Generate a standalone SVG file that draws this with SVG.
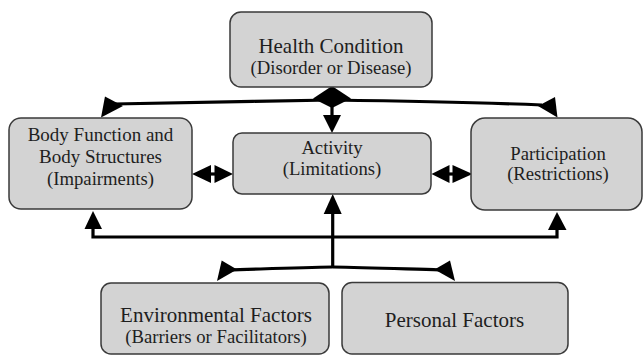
<svg xmlns="http://www.w3.org/2000/svg" width="644" height="356" viewBox="0 0 644 356">
<style>
.box{fill:#d3d3d3;stroke:#3a3a3a;stroke-width:1.5}
.t{fill:#1e1e1e;text-anchor:middle}
.big{font-size:21px}
.med{font-size:18.7px}
.ln{fill:none;stroke:#000;stroke-width:3.2}
.ah{fill:#000;stroke:none}
</style>
<rect width="644" height="356" fill="#fff"/>
<g id="connectors">
<path class="ln" d="M332,100 C260,101 170,103 114,104"/>
<polygon class="ah" points="101,117.5 105,96.5 123,106"/>
<path class="ln" d="M332,100 C404,101 494,103 542,105"/>
<polygon class="ah" points="557.5,117.5 555,97 538,106"/>
<polygon class="ah" points="332,86 351,98.5 332,108 313,98.5"/>
<line class="ln" x1="332" y1="105" x2="332" y2="117" stroke-width="5"/>
<polygon class="ah" points="323,115 341,115 332,133"/>
<polygon class="ah" points="192,174 211,165 211,183"/>
<polygon class="ah" points="233,174 214.5,165 214.5,183"/>
<line class="ln" x1="210" y1="174" x2="216" y2="174"/>
<polygon class="ah" points="431.5,174 449.5,165 449.5,183"/>
<polygon class="ah" points="472.5,174 452.5,165 452.5,183"/>
<line class="ln" x1="448" y1="174" x2="454" y2="174"/>
<polygon class="ah" points="332.7,194 323.7,214 341.7,214"/>
<line class="ln" x1="332.7" y1="212" x2="332.7" y2="268"/>
<polygon class="ah" points="93,211 84.5,229 102,229"/>
<path class="ln" d="M93,228 V237 H557 V228"/>
<polygon class="ah" points="557,212 548,230 566.5,230"/>
<path class="ln" d="M332.7,267 C300,267.5 262,269 228,270"/>
<polygon class="ah" points="217,281 221.7,260.5 237,269.5"/>
<path class="ln" d="M332.7,267 C366,267.5 405,269 440,270"/>
<polygon class="ah" points="455,281 450,260.5 434.5,269.5"/>
</g>
<g font-family="'Liberation Serif', 'Times New Roman', 'DejaVu Serif', serif">
<g id="health">
<rect class="box" x="230" y="12" width="202" height="75" rx="11"/>
<text class="t big" x="331" y="53">Health Condition</text>
<text class="t med" x="331" y="74">(Disorder or Disease)</text>
</g>
<g id="body">
<rect class="box" x="9" y="118" width="183" height="91" rx="12"/>
<text class="t" font-size="19" x="100.5" y="140.5">Body Function and</text>
<text class="t" font-size="19" x="100.5" y="163">Body Structures</text>
<text class="t med" x="100.5" y="185">(Impairments)</text>
</g>
<g id="activity">
<rect class="box" x="233" y="133" width="198" height="61" rx="9"/>
<text class="t med" x="332" y="154">Activity</text>
<text class="t med" x="332" y="175">(Limitations)</text>
</g>
<g id="participation">
<rect class="box" x="471" y="118" width="171" height="92" rx="14"/>
<text class="t med" x="558" y="160">Participation</text>
<text class="t med" x="558" y="180">(Restrictions)</text>
</g>
<g id="environmental">
<rect class="box" x="101" y="283" width="228" height="71" rx="10"/>
<text class="t big" x="216" y="322">Environmental Factors</text>
<text class="t med" x="216" y="342.5">(Barriers or Facilitators)</text>
</g>
<g id="personal">
<rect class="box" x="342" y="282.5" width="226" height="71.5" rx="10"/>
<text class="t big" x="454.5" y="327">Personal Factors</text>
</g>
</g>
</svg>
